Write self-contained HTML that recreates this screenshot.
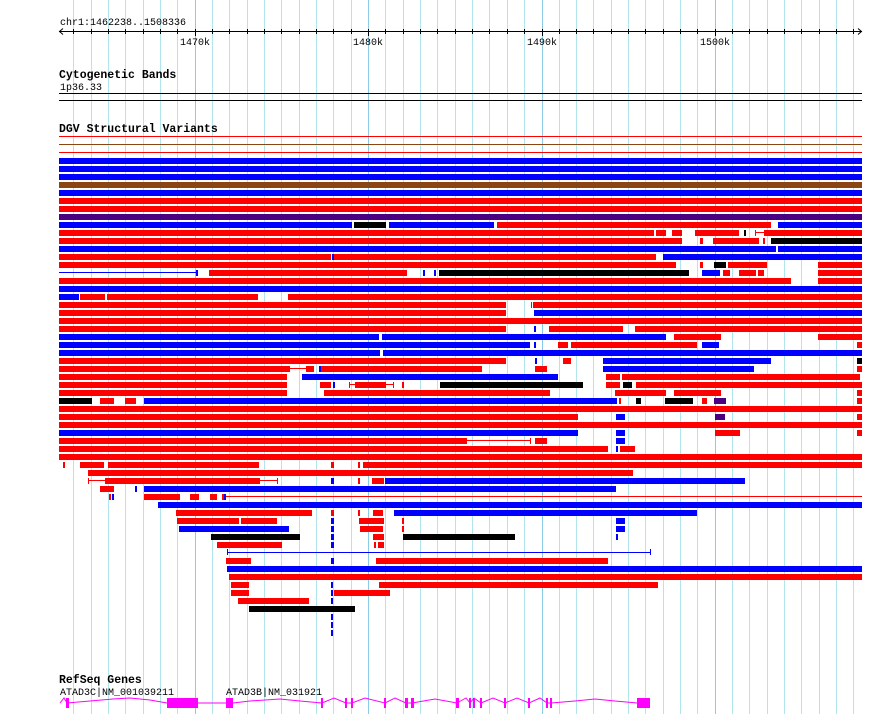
<!DOCTYPE html>
<html><head><meta charset="utf-8"><style>
html,body{margin:0;padding:0;background:#fff;}
svg{display:block;font-family:"Liberation Mono","DejaVu Sans Mono",monospace;}
.r{fill:#f00}.b{fill:#00f}.k{fill:#000}.n{fill:#8b4513}.p{fill:#4b0082}
</style></head><body>
<svg width="890" height="714" viewBox="0 0 890 714" shape-rendering="crispEdges">
<g stroke="#b2e6ee" stroke-width="1">
<line x1="73.5" y1="0" x2="73.5" y2="714"/><line x1="91.5" y1="0" x2="91.5" y2="714"/><line x1="108.5" y1="0" x2="108.5" y2="714"/><line x1="125.5" y1="0" x2="125.5" y2="714"/><line x1="143.5" y1="0" x2="143.5" y2="714"/><line x1="160.5" y1="0" x2="160.5" y2="714"/><line x1="177.5" y1="0" x2="177.5" y2="714"/>
<line x1="212.5" y1="0" x2="212.5" y2="714"/><line x1="229.5" y1="0" x2="229.5" y2="714"/><line x1="247.5" y1="0" x2="247.5" y2="714"/><line x1="264.5" y1="0" x2="264.5" y2="714"/><line x1="281.5" y1="0" x2="281.5" y2="714"/><line x1="299.5" y1="0" x2="299.5" y2="714"/><line x1="316.5" y1="0" x2="316.5" y2="714"/><line x1="333.5" y1="0" x2="333.5" y2="714"/><line x1="351.5" y1="0" x2="351.5" y2="714"/>
<line x1="385.5" y1="0" x2="385.5" y2="714"/><line x1="403.5" y1="0" x2="403.5" y2="714"/><line x1="420.5" y1="0" x2="420.5" y2="714"/><line x1="437.5" y1="0" x2="437.5" y2="714"/><line x1="455.5" y1="0" x2="455.5" y2="714"/><line x1="472.5" y1="0" x2="472.5" y2="714"/><line x1="489.5" y1="0" x2="489.5" y2="714"/><line x1="507.5" y1="0" x2="507.5" y2="714"/><line x1="524.5" y1="0" x2="524.5" y2="714"/>
<line x1="559.5" y1="0" x2="559.5" y2="714"/><line x1="576.5" y1="0" x2="576.5" y2="714"/><line x1="593.5" y1="0" x2="593.5" y2="714"/><line x1="611.5" y1="0" x2="611.5" y2="714"/><line x1="628.5" y1="0" x2="628.5" y2="714"/><line x1="645.5" y1="0" x2="645.5" y2="714"/><line x1="663.5" y1="0" x2="663.5" y2="714"/><line x1="680.5" y1="0" x2="680.5" y2="714"/><line x1="697.5" y1="0" x2="697.5" y2="714"/>
<line x1="732.5" y1="0" x2="732.5" y2="714"/><line x1="749.5" y1="0" x2="749.5" y2="714"/><line x1="767.5" y1="0" x2="767.5" y2="714"/><line x1="784.5" y1="0" x2="784.5" y2="714"/><line x1="801.5" y1="0" x2="801.5" y2="714"/><line x1="819.5" y1="0" x2="819.5" y2="714"/><line x1="836.5" y1="0" x2="836.5" y2="714"/><line x1="853.5" y1="0" x2="853.5" y2="714"/>
</g>
<g stroke="#8ccbe6" stroke-width="1">
<line x1="195.5" y1="0" x2="195.5" y2="714"/><line x1="368.5" y1="0" x2="368.5" y2="714"/><line x1="542.5" y1="0" x2="542.5" y2="714"/><line x1="715.5" y1="0" x2="715.5" y2="714"/>
</g>
<!-- axis -->
<text x="60" y="25" font-size="10">chr1:1462238..1508336</text>
<line x1="59" y1="31.5" x2="862" y2="31.5" stroke="#000"/>
<path d="M63 28.5 L59.5 31.5 L63 34.5 M858 28.5 L861.5 31.5 L858 34.5" stroke="#000" fill="none" shape-rendering="auto"/>
<g stroke="#000">
<line x1="73.5" y1="29" x2="73.5" y2="34"/><line x1="91.5" y1="29" x2="91.5" y2="34"/><line x1="108.5" y1="29" x2="108.5" y2="34"/><line x1="125.5" y1="29" x2="125.5" y2="34"/><line x1="143.5" y1="29" x2="143.5" y2="34"/><line x1="160.5" y1="29" x2="160.5" y2="34"/><line x1="177.5" y1="29" x2="177.5" y2="34"/><line x1="195.5" y1="29" x2="195.5" y2="36"/>
<line x1="212.5" y1="29" x2="212.5" y2="34"/><line x1="229.5" y1="29" x2="229.5" y2="34"/><line x1="247.5" y1="29" x2="247.5" y2="34"/><line x1="264.5" y1="29" x2="264.5" y2="34"/><line x1="281.5" y1="29" x2="281.5" y2="34"/><line x1="299.5" y1="29" x2="299.5" y2="34"/><line x1="316.5" y1="29" x2="316.5" y2="34"/><line x1="333.5" y1="29" x2="333.5" y2="34"/><line x1="351.5" y1="29" x2="351.5" y2="34"/><line x1="368.5" y1="29" x2="368.5" y2="36"/>
<line x1="385.5" y1="29" x2="385.5" y2="34"/><line x1="403.5" y1="29" x2="403.5" y2="34"/><line x1="420.5" y1="29" x2="420.5" y2="34"/><line x1="437.5" y1="29" x2="437.5" y2="34"/><line x1="455.5" y1="29" x2="455.5" y2="34"/><line x1="472.5" y1="29" x2="472.5" y2="34"/><line x1="489.5" y1="29" x2="489.5" y2="34"/><line x1="507.5" y1="29" x2="507.5" y2="34"/><line x1="524.5" y1="29" x2="524.5" y2="34"/><line x1="542.5" y1="29" x2="542.5" y2="36"/>
<line x1="559.5" y1="29" x2="559.5" y2="34"/><line x1="576.5" y1="29" x2="576.5" y2="34"/><line x1="593.5" y1="29" x2="593.5" y2="34"/><line x1="611.5" y1="29" x2="611.5" y2="34"/><line x1="628.5" y1="29" x2="628.5" y2="34"/><line x1="645.5" y1="29" x2="645.5" y2="34"/><line x1="663.5" y1="29" x2="663.5" y2="34"/><line x1="680.5" y1="29" x2="680.5" y2="34"/><line x1="697.5" y1="29" x2="697.5" y2="34"/><line x1="715.5" y1="29" x2="715.5" y2="36"/>
<line x1="732.5" y1="29" x2="732.5" y2="34"/><line x1="749.5" y1="29" x2="749.5" y2="34"/><line x1="767.5" y1="29" x2="767.5" y2="34"/><line x1="784.5" y1="29" x2="784.5" y2="34"/><line x1="801.5" y1="29" x2="801.5" y2="34"/><line x1="819.5" y1="29" x2="819.5" y2="34"/><line x1="836.5" y1="29" x2="836.5" y2="34"/><line x1="853.5" y1="29" x2="853.5" y2="34"/>
</g>
<g font-size="10" text-anchor="middle">
<text x="195" y="45">1470k</text><text x="368" y="45">1480k</text><text x="542" y="45">1490k</text><text x="715" y="45">1500k</text>
</g>
<text x="59" y="78" font-size="11.5" font-weight="bold">Cytogenetic Bands</text>
<text x="60" y="90" font-size="10">1p36.33</text>
<rect x="59" y="93" width="803" height="1" class="k"/>
<rect x="59" y="100" width="803" height="1" class="k"/>
<text x="59" y="132" font-size="11.5" font-weight="bold">DGV Structural Variants</text>
<rect x="59" y="136" width="803" height="1" class="r"/>
<rect x="59" y="144" width="803" height="1" class="n"/>
<rect x="59" y="152" width="803" height="1" class="r"/>
<g>
<rect x="59" y="158" width="803" height="6" class="b"/>
<rect x="59" y="166" width="803" height="6" class="b"/>
<rect x="59" y="174" width="803" height="6" class="b"/>
<rect x="59" y="182" width="803" height="6" class="n"/>
<rect x="59" y="190" width="803" height="6" class="b"/>
<rect x="59" y="198" width="803" height="6" class="r"/>
<rect x="59" y="206" width="803" height="6" class="r"/>
<rect x="59" y="214" width="803" height="6" class="p"/>
<!-- 222 -->
<rect x="59" y="222" width="293" height="6" class="b"/><rect x="354" y="222" width="32" height="6" class="k"/><rect x="389" y="222" width="105" height="6" class="b"/><rect x="497" y="222" width="274" height="6" class="r"/><rect x="778" y="222" width="84" height="6" class="b"/>
<!-- 230 -->
<rect x="59" y="230" width="595" height="6" class="r"/><rect x="656" y="230" width="10" height="6" class="r"/><rect x="672" y="230" width="10" height="6" class="r"/><rect x="695" y="230" width="44" height="6" class="r"/><rect x="744" y="230" width="2" height="6" class="k"/><rect x="755" y="232" width="9" height="1" class="r"/><rect x="755" y="230" width="1" height="6" class="r"/><rect x="764" y="230" width="98" height="6" class="r"/>
<!-- 238 -->
<rect x="59" y="238" width="623" height="6" class="r"/><rect x="700" y="238" width="3" height="6" class="r"/><rect x="713" y="238" width="46" height="6" class="r"/><rect x="763" y="238" width="2" height="6" class="r"/><rect x="771" y="238" width="91" height="6" class="k"/>
<!-- 246 -->
<rect x="59" y="246" width="717" height="6" class="b"/><rect x="778" y="246" width="84" height="6" class="b"/>
<!-- 254 -->
<rect x="59" y="254" width="272" height="6" class="r"/><rect x="332" y="254" width="2" height="6" class="b"/><rect x="334" y="254" width="322" height="6" class="r"/><rect x="663" y="254" width="199" height="6" class="b"/>
<!-- 262 -->
<rect x="59" y="262" width="617" height="6" class="r"/><rect x="700" y="262" width="3" height="6" class="r"/><rect x="714" y="262" width="12" height="6" class="k"/><rect x="728" y="262" width="39" height="6" class="r"/><rect x="818" y="262" width="44" height="6" class="r"/>
<!-- 270 -->
<rect x="59" y="272" width="138" height="1" class="b"/><rect x="196" y="270" width="2" height="6" class="b"/><rect x="209" y="270" width="198" height="6" class="r"/><rect x="423" y="270" width="2" height="6" class="b"/><rect x="434" y="270" width="2" height="6" class="b"/><rect x="439" y="270" width="250" height="6" class="k"/><rect x="702" y="270" width="18" height="6" class="b"/><rect x="723" y="270" width="7" height="6" class="r"/><rect x="739" y="270" width="17" height="6" class="r"/><rect x="758" y="270" width="6" height="6" class="r"/><rect x="818" y="270" width="44" height="6" class="r"/>
<!-- 278 -->
<rect x="59" y="278" width="732" height="6" class="r"/><rect x="818" y="278" width="44" height="6" class="r"/>
<rect x="59" y="286" width="803" height="6" class="b"/>
<!-- 294 -->
<rect x="59" y="294" width="20" height="6" class="b"/><rect x="80" y="294" width="25" height="6" class="r"/><rect x="107" y="294" width="151" height="6" class="r"/><rect x="288" y="294" width="574" height="6" class="r"/>
<!-- 302 -->
<rect x="59" y="302" width="447" height="6" class="r"/><rect x="531" y="302" width="1" height="6" class="r"/><rect x="533" y="302" width="329" height="6" class="r"/>
<!-- 310 -->
<rect x="59" y="310" width="447" height="6" class="r"/><rect x="534" y="310" width="328" height="6" class="b"/>
<rect x="59" y="318" width="803" height="6" class="r"/>
<!-- 326 -->
<rect x="59" y="326" width="447" height="6" class="r"/><rect x="534" y="326" width="2" height="6" class="b"/><rect x="549" y="326" width="74" height="6" class="r"/><rect x="635" y="326" width="227" height="6" class="r"/>
<!-- 334 -->
<rect x="59" y="334" width="320" height="6" class="b"/><rect x="382" y="334" width="284" height="6" class="b"/><rect x="674" y="334" width="47" height="6" class="r"/><rect x="818" y="334" width="44" height="6" class="r"/>
<!-- 342 -->
<rect x="59" y="342" width="471" height="6" class="b"/><rect x="534" y="342" width="2" height="6" class="b"/><rect x="558" y="342" width="10" height="6" class="r"/><rect x="571" y="342" width="126" height="6" class="r"/><rect x="702" y="342" width="17" height="6" class="b"/><rect x="857" y="342" width="5" height="6" class="r"/>
<!-- 350 -->
<rect x="59" y="350" width="321" height="6" class="b"/><rect x="383" y="350" width="479" height="6" class="b"/>
<!-- 358 -->
<rect x="59" y="358" width="447" height="6" class="r"/><rect x="535" y="358" width="2" height="6" class="b"/><rect x="563" y="358" width="8" height="6" class="r"/><rect x="603" y="358" width="168" height="6" class="b"/><rect x="857" y="358" width="5" height="6" class="k"/>
<!-- 366 -->
<rect x="59" y="366" width="231" height="6" class="r"/><rect x="290" y="368" width="16" height="1" class="r"/><rect x="306" y="366" width="8" height="6" class="r"/><rect x="319" y="366" width="2" height="6" class="b"/><rect x="321" y="366" width="161" height="6" class="r"/><rect x="535" y="366" width="12" height="6" class="r"/><rect x="603" y="366" width="151" height="6" class="b"/><rect x="857" y="366" width="5" height="6" class="r"/>
<!-- 374 -->
<rect x="59" y="374" width="228" height="6" class="r"/><rect x="302" y="374" width="256" height="6" class="b"/><rect x="606" y="374" width="14" height="6" class="r"/><rect x="622" y="374" width="238" height="6" class="r"/>
<!-- 382 -->
<rect x="59" y="382" width="228" height="6" class="r"/><rect x="320" y="382" width="11" height="6" class="r"/><rect x="333" y="382" width="2" height="6" class="b"/><rect x="349" y="384" width="45" height="1" class="r"/><rect x="349" y="382" width="1" height="6" class="r"/><rect x="355" y="382" width="31" height="6" class="r"/><rect x="393" y="382" width="1" height="6" class="r"/><rect x="402" y="382" width="2" height="6" class="r"/><rect x="440" y="382" width="143" height="6" class="k"/><rect x="606" y="382" width="14" height="6" class="r"/><rect x="623" y="382" width="9" height="6" class="k"/><rect x="636" y="382" width="226" height="6" class="r"/>
<!-- 390 -->
<rect x="59" y="390" width="228" height="6" class="r"/><rect x="324" y="390" width="226" height="6" class="r"/><rect x="615" y="390" width="51" height="6" class="r"/><rect x="674" y="390" width="47" height="6" class="r"/><rect x="857" y="390" width="5" height="6" class="r"/>
<!-- 398 -->
<rect x="59" y="398" width="33" height="6" class="k"/><rect x="100" y="398" width="14" height="6" class="r"/><rect x="125" y="398" width="11" height="6" class="r"/><rect x="144" y="398" width="473" height="6" class="b"/><rect x="619" y="398" width="2" height="6" class="r"/><rect x="636" y="398" width="5" height="6" class="k"/><rect x="665" y="398" width="28" height="6" class="k"/><rect x="702" y="398" width="5" height="6" class="r"/><rect x="714" y="398" width="12" height="6" class="p"/><rect x="857" y="398" width="5" height="6" class="r"/>
<rect x="59" y="406" width="803" height="6" class="r"/>
<!-- 414 -->
<rect x="59" y="414" width="519" height="6" class="r"/><rect x="616" y="414" width="9" height="6" class="b"/><rect x="715" y="414" width="10" height="6" class="p"/><rect x="857" y="414" width="5" height="6" class="r"/>
<rect x="59" y="422" width="803" height="6" class="r"/>
<!-- 430 -->
<rect x="59" y="430" width="519" height="6" class="b"/><rect x="616" y="430" width="9" height="6" class="b"/><rect x="715" y="430" width="25" height="6" class="r"/><rect x="857" y="430" width="5" height="6" class="r"/>
<!-- 438 -->
<rect x="59" y="438" width="408" height="6" class="r"/><rect x="467" y="440" width="63" height="1" class="r"/><rect x="530" y="438" width="1" height="6" class="r"/><rect x="535" y="438" width="12" height="6" class="r"/><rect x="616" y="438" width="9" height="6" class="b"/>
<!-- 446 -->
<rect x="59" y="446" width="549" height="6" class="r"/><rect x="616" y="446" width="2" height="6" class="b"/><rect x="620" y="446" width="15" height="6" class="r"/>
<rect x="59" y="454" width="803" height="6" class="r"/>
<!-- 462 -->
<rect x="63" y="462" width="2" height="6" class="r"/><rect x="80" y="462" width="24" height="6" class="r"/><rect x="108" y="462" width="151" height="6" class="r"/><rect x="331" y="462" width="3" height="6" class="r"/><rect x="358" y="462" width="2" height="6" class="r"/><rect x="363" y="462" width="499" height="6" class="r"/>
<!-- 470 -->
<rect x="88" y="470" width="545" height="6" class="r"/>
<!-- 478 -->
<rect x="88" y="480" width="190" height="1" class="r"/><rect x="88" y="478" width="1" height="6" class="r"/><rect x="105" y="478" width="155" height="6" class="r"/><rect x="277" y="478" width="1" height="6" class="r"/><rect x="331" y="478" width="3" height="6" class="b"/><rect x="358" y="478" width="2" height="6" class="r"/><rect x="372" y="478" width="12" height="6" class="r"/><rect x="385" y="478" width="360" height="6" class="b"/>
<!-- 486 -->
<rect x="100" y="486" width="14" height="6" class="r"/><rect x="135" y="486" width="2" height="6" class="b"/><rect x="144" y="486" width="472" height="6" class="b"/>
<!-- 494 -->
<rect x="109" y="494" width="2" height="6" class="r"/><rect x="112" y="494" width="2" height="6" class="b"/><rect x="144" y="494" width="36" height="6" class="r"/><rect x="190" y="494" width="9" height="6" class="r"/><rect x="210" y="494" width="7" height="6" class="r"/><rect x="222" y="494" width="2" height="6" class="r"/><rect x="224" y="494" width="2" height="6" class="b"/><rect x="226" y="496" width="636" height="1" class="r"/>
<rect x="158" y="502" width="704" height="6" class="b"/>
<!-- 510 -->
<rect x="176" y="510" width="136" height="6" class="r"/><rect x="331" y="510" width="3" height="6" class="r"/><rect x="358" y="510" width="2" height="6" class="r"/><rect x="373" y="510" width="10" height="6" class="r"/><rect x="394" y="510" width="303" height="6" class="b"/>
<!-- 518 -->
<rect x="177" y="518" width="62" height="6" class="r"/><rect x="241" y="518" width="36" height="6" class="r"/><rect x="331" y="518" width="3" height="6" class="b"/><rect x="359" y="518" width="25" height="6" class="r"/><rect x="402" y="518" width="2" height="6" class="r"/><rect x="616" y="518" width="9" height="6" class="b"/>
<!-- 526 -->
<rect x="179" y="526" width="110" height="6" class="b"/><rect x="331" y="526" width="3" height="6" class="b"/><rect x="360" y="526" width="23" height="6" class="r"/><rect x="402" y="526" width="2" height="6" class="r"/><rect x="616" y="526" width="9" height="6" class="b"/>
<!-- 534 -->
<rect x="211" y="534" width="89" height="6" class="k"/><rect x="331" y="534" width="3" height="6" class="b"/><rect x="373" y="534" width="11" height="6" class="r"/><rect x="403" y="534" width="112" height="6" class="k"/><rect x="616" y="534" width="2" height="6" class="b"/>
<!-- 542 -->
<rect x="217" y="542" width="65" height="6" class="r"/><rect x="331" y="542" width="3" height="6" class="b"/><rect x="374" y="542" width="2" height="6" class="r"/><rect x="378" y="542" width="6" height="6" class="r"/>
<!-- 550 -->
<rect x="227" y="552" width="423" height="1" class="b"/><rect x="227" y="549" width="1" height="6" class="b"/><rect x="650" y="549" width="1" height="6" class="b"/>
<!-- 558 -->
<rect x="226" y="558" width="25" height="6" class="r"/><rect x="331" y="558" width="3" height="6" class="b"/><rect x="376" y="558" width="232" height="6" class="r"/>
<rect x="227" y="566" width="635" height="6" class="b"/>
<rect x="229" y="574" width="633" height="6" class="r"/>
<!-- 582 -->
<rect x="231" y="582" width="18" height="6" class="r"/><rect x="331" y="582" width="2" height="6" class="b"/><rect x="379" y="582" width="279" height="6" class="r"/>
<!-- 590 -->
<rect x="231" y="590" width="18" height="6" class="r"/><rect x="331" y="590" width="2" height="6" class="b"/><rect x="334" y="590" width="56" height="6" class="r"/>
<!-- 598 -->
<rect x="238" y="598" width="71" height="6" class="r"/><rect x="331" y="598" width="2" height="6" class="b"/>
<!-- 606 -->
<rect x="249" y="606" width="106" height="6" class="k"/>
<rect x="331" y="614" width="2" height="6" class="b"/><rect x="331" y="622" width="2" height="6" class="b"/><rect x="331" y="630" width="2" height="6" class="b"/>
</g>
<!-- RefSeq -->
<text x="59" y="683" font-size="11.5" font-weight="bold">RefSeq Genes</text>
<text x="60" y="695" font-size="10">ATAD3C|NM_001039211</text>
<text x="226" y="695" font-size="10">ATAD3B|NM_031921</text>
<path d="M60 703 L64 698 L67 703 L90 701 L113 699 L130 698 L150 700 L167 703 M198 703 L226 703 M233 703 L250 701 L265 700 L280 699 L300 701 L322 703 L334 698 L346 703 L352 703 L365 698 L385 703 L395 698 L406 703 L412 703 L435 699 L457 703 L466 698 L470 703 L474 698 L481 703 L493 698 L505 703 L517 698 L529 703 L540 698 L547 703 L551 703 L575 701 L595 699 L615 701 L637 703" stroke="#f0f" fill="none" shape-rendering="auto"/>
<g fill="#f0f">
<rect x="66" y="698" width="3" height="10"/><rect x="167" y="698" width="31" height="10"/><rect x="226" y="698" width="7" height="10"/>
<rect x="321" y="698" width="2" height="10"/><rect x="345" y="698" width="2" height="10"/><rect x="351" y="698" width="2" height="10"/><rect x="384" y="698" width="2" height="10"/><rect x="405" y="698" width="3" height="10"/><rect x="411" y="698" width="3" height="10"/><rect x="456" y="698" width="3" height="10"/><rect x="469" y="698" width="2" height="10"/><rect x="473" y="698" width="2" height="10"/><rect x="480" y="698" width="2" height="10"/><rect x="504" y="698" width="2" height="10"/><rect x="528" y="698" width="2" height="10"/><rect x="546" y="698" width="2" height="10"/><rect x="550" y="698" width="2" height="10"/><rect x="637" y="698" width="13" height="10"/>
</g>
</svg>
</body></html>
